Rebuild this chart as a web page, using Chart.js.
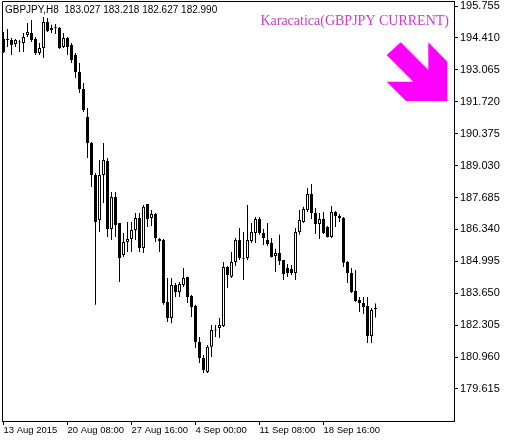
<!DOCTYPE html>
<html>
<head>
<meta charset="utf-8">
<script src="https://cdn.jsdelivr.net/npm/chart.js@4.4.1/dist/chart.umd.min.js"></script>
<style>
  html, body { margin: 0; padding: 0; background: #fff; }
</style>
</head>
<body>
<canvas id="chart" width="506" height="441"></canvas>
<script>
// --- GBPJPY H8 candles ---
const opens = [194.36,194.32,194.32,194.15,194.24,194.20,194.53,194.62,194.36,193.77,
  193.99,195.08,194.83,194.82,194.83,194.03,194.41,194.11,193.69,192.97,
  192.26,191.08,189.98,188.63,186.74,188.63,189.22,186.36,187.71,186.61,
  185.26,185.81,185.94,186.32,186.82,185.56,187.41,186.82,186.99,185.94,
  185.89,183.28,182.61,184.00,183.70,184.00,184.34,183.53,183.11,181.60,
  180.92,180.33,181.39,182.10,182.19,182.27,184.76,184.34,184.97,185.89,
  185.10,185.14,185.85,186.19,186.78,186.19,185.89,185.77,185.22,185.35,
  185.05,184.71,184.67,184.50,186.23,186.65,187.16,187.83,187.03,186.57,
  186.78,186.44,186.02,187.07,186.91,186.82,184.97,184.50,183.75,183.37,
  183.24,183.11,181.85,183.027];
const highs = [194.66,194.79,194.41,194.36,194.32,194.62,195.04,195.17,194.45,194.20,
  195.29,195.25,194.96,195.00,194.87,194.62,194.45,194.20,193.77,193.35,
  192.51,191.46,190.02,188.72,189.27,189.98,189.35,187.92,187.92,186.61,
  186.19,186.65,186.65,187.03,187.03,187.37,187.41,187.16,187.03,185.98,
  185.94,184.29,184.29,184.08,184.12,184.71,184.34,183.58,183.16,181.81,
  181.05,181.47,182.31,182.31,182.61,184.97,184.80,185.39,185.98,186.40,
  186.23,187.37,186.61,186.86,186.86,186.36,186.61,185.98,185.52,186.11,
  185.05,184.88,184.84,186.40,187.16,187.29,188.09,188.25,187.24,187.03,
  187.07,186.48,187.33,187.12,186.99,186.86,185.01,184.71,184.63,183.49,
  183.49,183.49,183.03,183.218];
const lows = [193.77,194.03,193.69,194.03,193.82,193.82,194.45,194.24,193.69,193.69,
  193.56,194.66,194.62,194.58,193.94,193.99,193.69,193.35,192.72,192.09,
  191.29,189.35,188.13,183.16,186.23,187.45,186.02,185.89,186.02,184.12,
  185.18,185.39,185.39,185.89,185.39,185.35,186.44,186.48,185.81,185.39,
  183.16,182.44,182.39,183.49,183.49,183.91,183.24,182.65,181.34,180.71,
  180.29,180.29,180.96,181.81,181.76,182.23,183.87,184.29,184.80,185.05,
  184.21,185.05,185.77,185.77,186.11,185.68,185.64,185.16,184.55,184.84,
  184.21,184.33,184.42,184.21,186.11,186.61,187.07,186.78,186.15,185.94,
  186.15,186.00,185.98,186.44,186.65,184.76,184.08,183.66,183.28,182.86,
  182.78,181.55,181.55,182.627];
const closes = [193.82,194.36,194.11,194.32,194.22,194.45,194.66,194.32,193.77,193.99,
  195.08,194.70,194.74,194.84,193.99,194.41,194.03,193.48,192.97,192.26,
  191.37,189.98,188.63,186.65,188.63,189.27,186.36,187.71,186.53,185.14,
  185.81,185.94,186.32,186.82,185.56,187.29,186.78,186.99,185.98,185.85,
  183.24,182.61,184.00,183.70,184.04,184.29,183.49,183.07,181.60,180.92,
  180.42,181.39,182.10,182.08,182.31,184.76,184.42,184.97,185.89,185.14,
  185.14,185.89,186.23,186.78,186.19,185.98,185.73,185.18,185.35,185.01,
  184.46,184.50,184.50,186.23,186.74,187.20,187.83,187.03,186.57,186.78,
  186.19,186.02,187.07,186.91,186.82,184.93,184.50,183.70,183.32,183.24,
  183.07,181.85,182.94,182.990];

const priceTicks = [179.615,180.960,182.305,183.650,184.995,186.340,187.685,189.030,190.375,191.720,193.065,194.410,195.755];
const tickLabels = ['13 Aug 2015','20 Aug 08:00','27 Aug 16:00','4 Sep 00:00','11 Sep 08:00','18 Sep 16:00'];
const tickEvery = 16;   // one label every 16 bars
const symbol = 'GBPJPY,H8';
const indicatorTitle = 'Karacatica(GBPJPY CURRENT)';

const bodies = opens.map((o, i) => ({ x: i, y: [o, closes[i]] }));
const wicks = lows.map((l, i) => ({ x: i, y: [l, highs[i]] }));
const isUp = i => closes[i] >= opens[i];

// frame, header text, indicator title and its arrow
const overlay = {
  id: 'overlay',
  afterDraw(chart) {
    const { ctx, chartArea: a } = chart;
    ctx.save();
    ctx.strokeStyle = '#000';
    ctx.lineWidth = 1;
    ctx.beginPath();
    ctx.moveTo(a.left + 0.5, a.bottom);
    ctx.lineTo(a.left + 0.5, a.top + 0.5);
    ctx.lineTo(a.right, a.top + 0.5);
    ctx.stroke();

    const n = opens.length - 1;
    ctx.fillStyle = '#000';
    ctx.font = '10px "Liberation Sans", Arial, sans-serif';
    ctx.textBaseline = 'middle';
    ctx.textAlign = 'left';
    ctx.fillText(symbol + '  ' + [opens[n], highs[n], lows[n], closes[n]].map(v => v.toFixed(3)).join(' '), a.left + 3, a.top + 9);

    ctx.fillStyle = '#cc3ccc';
    ctx.font = '14px "Liberation Serif", "Times New Roman", serif';
    ctx.textAlign = 'right';
    ctx.fillText(indicatorTitle, a.right - 5, a.top + 20);

    // down arrow
    const r = a.right, t = a.top - 1;
    const pts = [[-53.3,42.3],[-25.7,70],[-25.7,42.3],[-6.7,61.7],[-6.7,101],[-48,101],[-67.3,81.7],[-40.7,81.7],[-67.3,55]];
    ctx.fillStyle = '#ff00ff';
    ctx.beginPath();
    pts.forEach(([dx, y], k) => k ? ctx.lineTo(r + dx, t + y) : ctx.moveTo(r + dx, t + y));
    ctx.closePath();
    ctx.fill();
    ctx.restore();
  }
};

new Chart(document.getElementById('chart'), {
  type: 'bar',
  data: {
    datasets: [
      {
        data: bodies,
        grouped: false,
        barThickness: 3,
        minBarLength: 1,
        borderSkipped: false,
        borderWidth: 1,
        inflateAmount: 0,
        borderColor: '#000',
        backgroundColor: ctx => isUp(ctx.dataIndex) ? '#fff' : '#000'
      },
      {
        data: wicks,
        grouped: false,
        barThickness: 1,
        borderWidth: 0,
        inflateAmount: 0,
        backgroundColor: '#000'
      }
    ]
  },
  options: {
    responsive: false,
    animation: false,
    devicePixelRatio: 1,
    layout: { padding: { left: 2, top: 1, right: 0, bottom: 0 } },
    plugins: { legend: { display: false }, tooltip: { enabled: false } },
    scales: {
      x: {
        type: 'linear',
        min: -0.375,
        max: 112.625,
        offset: false,
        afterBuildTicks: s => { s.ticks = tickLabels.map((_, k) => ({ value: k * tickEvery })); },
        afterFit: s => { s.height = 20; s.paddingLeft = 0; s.paddingRight = 0; },
        grid: { drawOnChartArea: false, tickLength: 4, color: '#000', offset: false },
        border: { color: '#000' },
        ticks: {
          autoSkip: false, maxRotation: 0, align: 'start', padding: 0,
          color: '#000', font: { family: '"Liberation Sans", Arial, sans-serif', size: 9.5 },
          callback: (v, i) => tickLabels[i]
        }
      },
      y: {
        position: 'right',
        min: 178.266,
        max: 195.966,
        afterBuildTicks: s => { s.ticks = priceTicks.map(v => ({ value: v })); },
        afterFit: s => { s.width = 52; s.paddingTop = 0; s.paddingBottom = 0; },
        grid: { drawOnChartArea: false, tickLength: 4, color: '#000' },
        border: { color: '#000' },
        ticks: {
          padding: 2, color: '#000',
          font: { family: '"Liberation Sans", Arial, sans-serif', size: 11 },
          callback: v => v.toFixed(3)
        }
      }
    }
  },
  plugins: [overlay]
});
</script>
</body>
</html>
